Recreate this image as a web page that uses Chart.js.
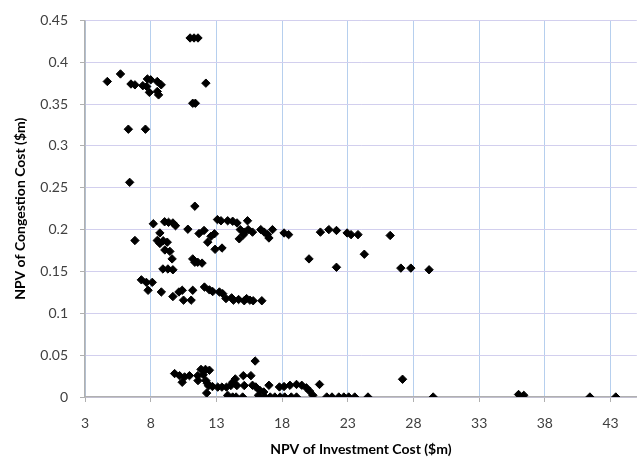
<!DOCTYPE html>
<html>
<head>
<meta charset="utf-8">
<script src="https://cdn.jsdelivr.net/npm/chart.js@4/dist/chart.umd.min.js"></script>
<style>
  html, body { margin: 0; padding: 0; background: #ffffff; }
  #wrap { width: 642px; height: 468px; }
</style>
</head>
<body>
<div id="wrap"><canvas id="chart" width="642" height="468"></canvas></div>
<script>
// NPV of investment cost ($m) for each scenario
const investmentCost = [
  4.7, 5.7, 6.5, 6.8, 7.4, 7.7, 7.75, 8.0, 7.9, 8.5, 8.8, 8.5, 8.6, 6.3, 7.6,
  11.0, 11.3, 11.6, 11.2, 11.4, 12.2,
  6.4, 6.8, 8.2, 8.7, 8.5, 8.7, 9.06, 9.36, 9.69, 9.89, 8.95, 9.26, 9.08, 9.46,
  9.63, 8.93, 9.31, 9.69, 10.83, 11.36, 11.68, 12.06, 12.34, 12.59, 12.85, 12.9,
  13.43, 11.2, 11.58, 11.91, 11.36, 13.08, 13.35, 13.86, 14.24, 14.57, 15.37,
  14.82, 15.12, 15.42, 15.75, 14.74, 15.07, 16.38, 16.64, 16.89, 17.27, 17.0,
  18.15, 18.5, 20.05, 20.92, 21.56, 22.14, 22.14, 22.95, 23.25, 23.78, 24.26,
  26.23, 27.04, 27.8, 29.19,
  7.29, 7.67, 8.12, 7.8, 8.81, 9.69, 10.15, 10.4, 10.5, 11.08, 11.2, 12.09,
  12.47, 12.72, 13.23, 13.48, 13.73, 14.16, 14.3, 14.69, 15.12, 15.3, 15.55,
  15.8, 16.46,
  9.82, 10.2, 10.58, 10.95, 10.4, 11.58, 11.6, 11.83, 12.17, 12.47, 12.0, 12.2,
  12.3, 12.4, 12.26, 12.7, 13.1, 13.42, 13.77, 14.1, 14.24, 14.44, 13.86, 14.24,
  14.5, 15.0, 14.56, 15.12, 15.05, 15.63, 15.95, 15.75, 16.0, 16.3, 16.6, 17.0,
  16.2, 16.7, 17.1, 17.45, 17.85, 18.2, 18.7, 19.1, 17.8, 18.15, 18.6, 19.1,
  19.5, 19.85, 20.1, 20.35, 20.85, 21.4, 21.8, 22.32, 22.7, 23.07, 23.53, 24.54,
  27.17, 29.5, 36.0, 36.4, 41.43, 43.4
];

// NPV of congestion cost ($m) for the same scenarios
const congestionCost = [
  0.377, 0.386, 0.374, 0.373, 0.372, 0.371, 0.380, 0.379, 0.364, 0.377, 0.373,
  0.365, 0.361, 0.320, 0.320,
  0.429, 0.429, 0.429, 0.351, 0.351, 0.375,
  0.2565, 0.187, 0.207, 0.196, 0.187, 0.1835, 0.2094, 0.2087, 0.208, 0.2047,
  0.1867, 0.185, 0.1757, 0.174, 0.165, 0.153, 0.153, 0.152, 0.2005, 0.228,
  0.1953, 0.199, 0.185, 0.192, 0.195, 0.1765, 0.178, 0.165, 0.161, 0.16, 0.161,
  0.212, 0.2106, 0.2106, 0.21, 0.208, 0.2106, 0.200, 0.197, 0.200, 0.197, 0.189,
  0.194, 0.2, 0.197, 0.194, 0.2, 0.19, 0.196, 0.194, 0.165, 0.197, 0.200, 0.199,
  0.155, 0.196, 0.194, 0.194, 0.1706, 0.193, 0.154, 0.154, 0.152,
  0.140, 0.137, 0.137, 0.1275, 0.1255, 0.120, 0.1255, 0.1275, 0.1157, 0.1157,
  0.1275, 0.1314, 0.128, 0.126, 0.1255, 0.1235, 0.1176, 0.1185, 0.1157, 0.1165,
  0.115, 0.1176, 0.1157, 0.115, 0.115,
  0.028, 0.0255, 0.024, 0.0255, 0.0176, 0.0255, 0.0196, 0.033, 0.033, 0.032,
  0.0267, 0.0196, 0.0165, 0.0134, 0.0047, 0.0125, 0.0118, 0.0118, 0.0118,
  0.0137, 0.0176, 0.0216, 0.002, 0.0, 0.0, 0.0, 0.0137, 0.0137, 0.0255, 0.0255,
  0.043, 0.014, 0.012, 0.008, 0.006, 0.014, 0.002, 0.0, 0.0, 0.0, 0.0, 0.0, 0.0,
  0.0, 0.012, 0.0125, 0.014, 0.015, 0.014, 0.011, 0.007, 0.002, 0.015, 0.0, 0.0,
  0.0, 0.0, 0.0, 0.0, 0.0,
  0.0212, 0.0, 0.003, 0.002, 0.0, 0.0
];

// Axis tick labels
const xTickLabels = [3, 8, 13, 18, 23, 28, 33, 38, 43];
const yTickLabels = [0, 0.05, 0.1, 0.15, 0.2, 0.25, 0.3, 0.35, 0.4, 0.45];

const points = investmentCost.map((x, i) => ({ x: x, y: congestionCost[i] }));

const FONT = 'Lato, "Open Sans", sans-serif';

new Chart(document.getElementById('chart'), {
  type: 'scatter',
  data: {
    datasets: [{
      data: points,
      pointStyle: 'rectRot',
      pointRadius: 4.2,
      pointBorderWidth: 1,
      backgroundColor: '#000000',
      borderColor: '#000000'
    }]
  },
  options: {
    responsive: false,
    animation: false,
    devicePixelRatio: 1,
    layout: { padding: { top: 14, right: 1, left: 0, bottom: 0 } },
    plugins: { legend: { display: false }, tooltip: { enabled: false } },
    scales: {
      x: {
        type: 'linear',
        min: 3,
        max: 45,
        afterBuildTicks: (axis) => {
          axis.ticks = xTickLabels.map(v => ({ value: v }));
        },
        afterFit: (s) => { s.height = 71; },
        grid: {
          color: '#b6cfee',
          lineWidth: 1,
          tickColor: '#b0b0b0',
          tickLength: 5
        },
        border: { color: '#b0b0b0', width: 1.5 },
        ticks: {
          padding: 13,
          color: '#404040',
          font: { family: FONT, size: 14 },
          maxRotation: 0,
          callback: (v) => String(v)
        },
        title: {
          display: true,
          text: 'NPV of Investment Cost ($m)',
          color: '#000000',
          font: { family: FONT, size: 14, weight: 'bold' },
          padding: { top: 0, bottom: 10 }
        }
      },
      y: {
        type: 'linear',
        min: 0,
        max: 0.45,
        afterBuildTicks: (axis) => {
          axis.ticks = yTickLabels.map(v => ({ value: v }));
        },
        afterFit: (s) => { s.width = 85; },
        grid: {
          color: '#d2cfee',
          lineWidth: 1,
          tickColor: '#b0b0b0',
          tickLength: 5
        },
        border: { color: '#b0b0b0', width: 1.5 },
        ticks: {
          padding: 12,
          color: '#404040',
          font: { family: FONT, size: 14 },
          callback: (v) => String(v)
        },
        title: {
          display: true,
          text: 'NPV of Congestion Cost ($m)',
          color: '#000000',
          font: { family: FONT, size: 14, weight: 'bold' },
          padding: { top: 12, bottom: 0 }
        }
      }
    }
  }
});
</script>
</body>
</html>
